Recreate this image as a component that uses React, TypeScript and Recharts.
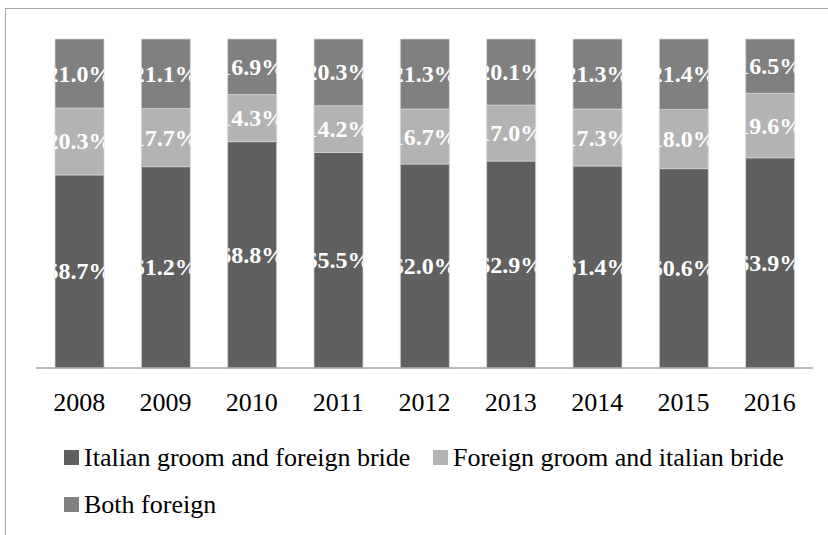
import React from 'react';
import { BarChart, Bar, XAxis, YAxis, Legend, LabelList } from 'recharts';

const years = ['2008', '2009', '2010', '2011', '2012', '2013', '2014', '2015', '2016'];
const italianGroomForeignBride = [58.7, 61.2, 68.8, 65.5, 62.0, 62.9, 61.4, 60.6, 63.9];
const foreignGroomItalianBride = [20.3, 17.7, 14.3, 14.2, 16.7, 17.0, 17.3, 18.0, 19.6];
const bothForeign = [21.0, 21.1, 16.9, 20.3, 21.3, 20.1, 21.3, 21.4, 16.5];

const seriesNames = [
  'Italian groom and foreign bride',
  'Foreign groom and italian bride',
  'Both foreign',
];
const seriesColors = ['#606060', '#b3b3b3', '#808080'];

const data = years.map((year, i) => ({
  year,
  italian: italianGroomForeignBride[i],
  foreign: foreignGroomItalianBride[i],
  both: bothForeign[i],
}));

const FONT = 'Liberation Serif, Times New Roman, serif';

// value label, clipped to its own bar segment like the original
const SegmentLabel = (props: any) => {
  const { x, y, width, height, value, index, prefix } = props;
  const id = `clip-${prefix}-${index}`;
  return (
    <g>
      <clipPath id={id}>
        <rect x={x} y={y} width={width} height={height} />
      </clipPath>
      <text
        x={x + width / 2}
        y={y + height / 2}
        textAnchor="middle"
        dominantBaseline="central"
        fill="#ffffff"
        fontWeight="bold"
        fontSize={24}
        style={{ fontFamily: FONT }}
        clipPath={`url(#${id})`}
      >
        {Number(value).toFixed(1)}%
      </text>
    </g>
  );
};

const YearTick = ({ x, y, payload }: any) => (
  <text x={x} y={y + 43} textAnchor="middle" fontSize={26} style={{ fontFamily: FONT }} fill="#000">
    {payload.value}
  </text>
);

const renderLegend = () => (
  <div
    style={{
      display: 'flex',
      flexWrap: 'wrap',
      width: 740,
      paddingLeft: 63,
      fontFamily: FONT,
      fontSize: 26,
      color: '#000',
    }}
  >
    {seriesNames.map((name, i) => (
      <div
        key={name}
        style={{
          display: 'flex',
          alignItems: 'center',
          height: 47,
          width: i === 0 ? 369 : 'auto',
        }}
      >
        <span
          style={{
            display: 'inline-block',
            width: 15,
            height: 15,
            background: seriesColors[i],
            marginRight: 5,
          }}
        />
        <span style={{ whiteSpace: 'nowrap' }}>{name}</span>
      </div>
    ))}
  </div>
);

const App: React.FC = () => {
  return (
    <div
      style={{
        position: 'absolute',
        left: 5,
        top: 8,
        width: 823,
        height: 527,
        boxSizing: 'border-box',
        borderLeft: '1px solid #a6a6a6',
        borderTop: '1px solid #a6a6a6',
        background: '#fff',
      }}
    >
      <div style={{ position: 'absolute', left: -5, top: -8 }}>
        <BarChart
          width={828}
          height={535}
          data={data}
          margin={{ top: 38, right: 16, left: 35, bottom: 14 }}
          barSize={49}
        >
          <XAxis
            dataKey="year"
            axisLine={{ stroke: '#a6a6a6', strokeWidth: 1.5 }}
            tickLine={false}
            tickSize={0}
            tickMargin={0}
            height={60}
            tick={<YearTick />}
            interval={0}
          />
          <YAxis hide domain={[0, 100]} />
          <Legend
            verticalAlign="bottom"
            content={renderLegend}
            wrapperStyle={{ top: 433, bottom: 'auto', left: 0, width: 828 }}
          />
          <Bar dataKey="italian" stackId="a" fill={seriesColors[0]} stroke="#d4d4d4" strokeWidth={0.75} isAnimationActive={false}>
            <LabelList dataKey="italian" content={(p: any) => <SegmentLabel {...p} prefix="a" />} />
          </Bar>
          <Bar dataKey="foreign" stackId="a" fill={seriesColors[1]} stroke="#d4d4d4" strokeWidth={0.75} isAnimationActive={false}>
            <LabelList dataKey="foreign" content={(p: any) => <SegmentLabel {...p} prefix="b" />} />
          </Bar>
          <Bar dataKey="both" stackId="a" fill={seriesColors[2]} stroke="#d4d4d4" strokeWidth={0.75} isAnimationActive={false}>
            <LabelList dataKey="both" content={(p: any) => <SegmentLabel {...p} prefix="c" />} />
          </Bar>
        </BarChart>
      </div>
    </div>
  );
};

export default App;
